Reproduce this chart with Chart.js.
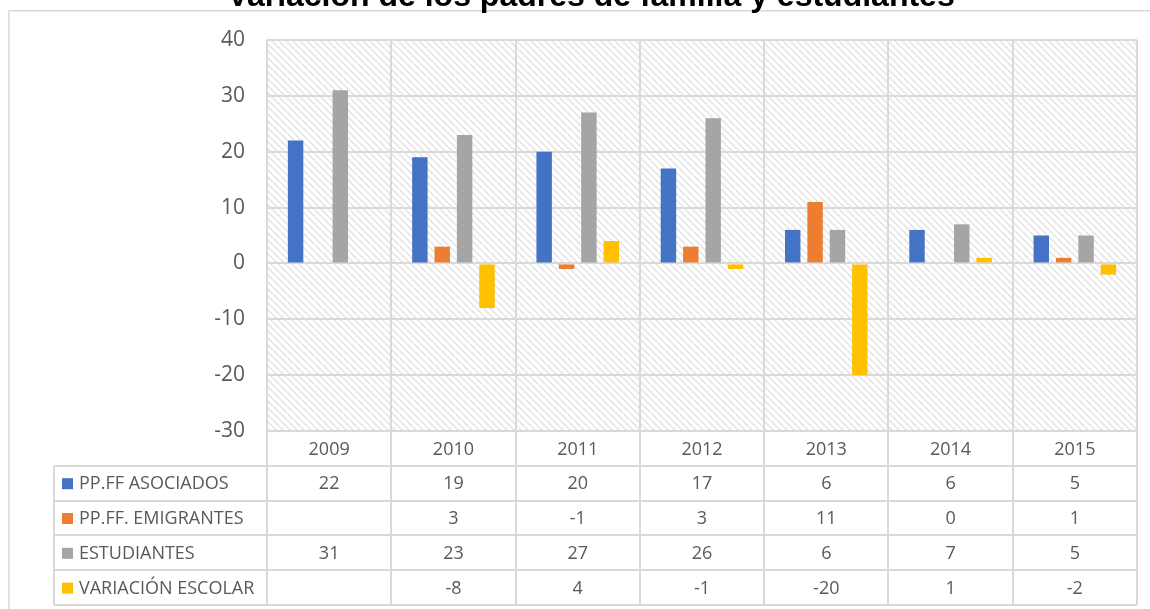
<!DOCTYPE html>
<html>
<head>
<meta charset="utf-8">
<script src="https://cdn.jsdelivr.net/npm/chart.js@4"></script>
<style>
  html, body { margin: 0; padding: 0; background: #fff; }
  #wrap { width: 1150px; height: 609px; position: relative; }
</style>
</head>
<body>
<div id="wrap"><canvas id="chart"></canvas></div>
<script>
// datos
const years = ['2009', '2010', '2011', '2012', '2013', '2014', '2015'];
const asociados = [22, 19, 20, 17, 6, 6, 5];
const emigrantes = [null, 3, -1, 3, 11, 0, 1];
const estudiantes = [31, 23, 27, 26, 6, 7, 5];
const variacion = [null, -8, 4, -1, -20, 1, -2];
const seriesNames = ['PP.FF ASOCIADOS', 'PP.FF. EMIGRANTES', 'ESTUDIANTES', 'VARIACIÓN ESCOLAR'];
const yTicks = [40, 30, 20, 10, 0, -10, -20, -30];

const colors = ['#4472C4', '#ED7D31', '#A5A5A5', '#FFC000'];
const gridColor = '#d9d9d9';
const textColor = '#595959';

// trama diagonal del fondo
function makeHatch() {
    const s = 7;
    const c = document.createElement('canvas');
    c.width = s; c.height = s;
    const g = c.getContext('2d');
    g.strokeStyle = '#e2e2e2';
    g.lineWidth = 1.5;
    for (const k of [-s, 0, s]) {
        g.beginPath();
        g.moveTo(k, 0);
        g.lineTo(k + s, s);
        g.stroke();
    }
    return g.createPattern(c, 'repeat');
}

const tablePlugin = {
    id: 'tablePlugin',
    beforeDraw(chart) {
        const ctx = chart.ctx;
        const a = chart.chartArea;
        ctx.save();
        ctx.fillStyle = makeHatch();
        ctx.fillRect(a.left, a.top, a.right - a.left, a.bottom - a.top);
        ctx.restore();
    },
    afterDraw(chart) {
        const ctx = chart.ctx;
        const a = chart.chartArea;
        const x = chart.scales.x;
        const rowH = 34.8;
        const legendLeft = 54;
        const tableBottom = a.bottom + rowH * 5;
        const rows = [asociados, emigrantes, estudiantes, variacion];
        ctx.save();

        // borde exterior
        ctx.strokeStyle = gridColor;
        ctx.lineWidth = 1.5;
        ctx.beginPath();
        ctx.moveTo(9, 620);
        ctx.lineTo(9, 10.8);
        ctx.lineTo(1160, 10.8);
        ctx.stroke();

        // líneas de la tabla
        ctx.lineWidth = 2;
        ctx.beginPath();
        for (let i = 0; i <= years.length; i++) {
            const px = Math.round(a.left + (a.right - a.left) * i / years.length);
            ctx.moveTo(px, a.bottom);
            ctx.lineTo(px, tableBottom);
        }
        for (let r = 1; r <= 5; r++) {
            const py = Math.round(a.bottom + rowH * r);
            ctx.moveTo(legendLeft, py);
            ctx.lineTo(a.right, py);
        }
        ctx.moveTo(legendLeft, a.bottom + rowH);
        ctx.lineTo(legendLeft, tableBottom);
        ctx.stroke();

        // textos
        ctx.fillStyle = textColor;
        ctx.font = '18px "Open Sans"';
        ctx.textAlign = 'center';
        ctx.textBaseline = 'middle';
        years.forEach((yr, i) => {
            ctx.fillText(yr, x.getPixelForValue(i), a.bottom + rowH * 0.5 + 1);
        });
        rows.forEach((vals, r) => {
            const cy = a.bottom + rowH * (r + 1.5) + 1;
            vals.forEach((v, i) => {
                if (v !== null) ctx.fillText(String(v), x.getPixelForValue(i), cy);
            });
            ctx.fillStyle = colors[r];
            ctx.fillRect(62, cy - 6, 11, 11);
            ctx.fillStyle = textColor;
            ctx.textAlign = 'left';
            ctx.fillText(seriesNames[r], 79, cy);
            ctx.textAlign = 'center';
        });

        // título (recortado arriba)
        ctx.fillStyle = '#000';
        ctx.font = 'bold 32px "Liberation Sans"';
        ctx.textBaseline = 'alphabetic';
        ctx.fillText('Variación de los padres de familia y estudiantes', 591, 6);
        ctx.restore();
    }
};

const seriesData = [asociados, emigrantes, estudiantes, variacion];

new Chart(document.getElementById('chart'), {
    type: 'bar',
    data: {
        labels: years,
        datasets: seriesNames.map((name, i) => ({
            label: name,
            data: seriesData[i],
            backgroundColor: colors[i],
            categoryPercentage: 0.72,
            barPercentage: 0.69
        }))
    },
    options: {
        responsive: true,
        maintainAspectRatio: false,
        animation: false,
        layout: { padding: { left: 0, top: 40, right: 13, bottom: 0 } },
        plugins: {
            legend: { display: false },
            title: { display: false },
            tooltip: { enabled: false }
        },
        scales: {
            x: {
                ticks: { display: false },
                grid: { color: gridColor, lineWidth: 2, offset: true, drawTicks: false },
                border: { display: false },
                afterFit(scale) { scale.height = 178; }
            },
            y: {
                min: -30,
                max: 40,
                afterBuildTicks(scale) { scale.ticks = yTicks.map(v => ({ value: v })); },
                ticks: {
                    color: textColor,
                    font: { family: 'Open Sans', size: 21 },
                    padding: 22
                },
                grid: { color: gridColor, lineWidth: 2, drawTicks: false },
                border: { display: false },
                afterFit(scale) { scale.width = 267; }
            }
        }
    },
    plugins: [tablePlugin]
});
</script>
</body>
</html>
